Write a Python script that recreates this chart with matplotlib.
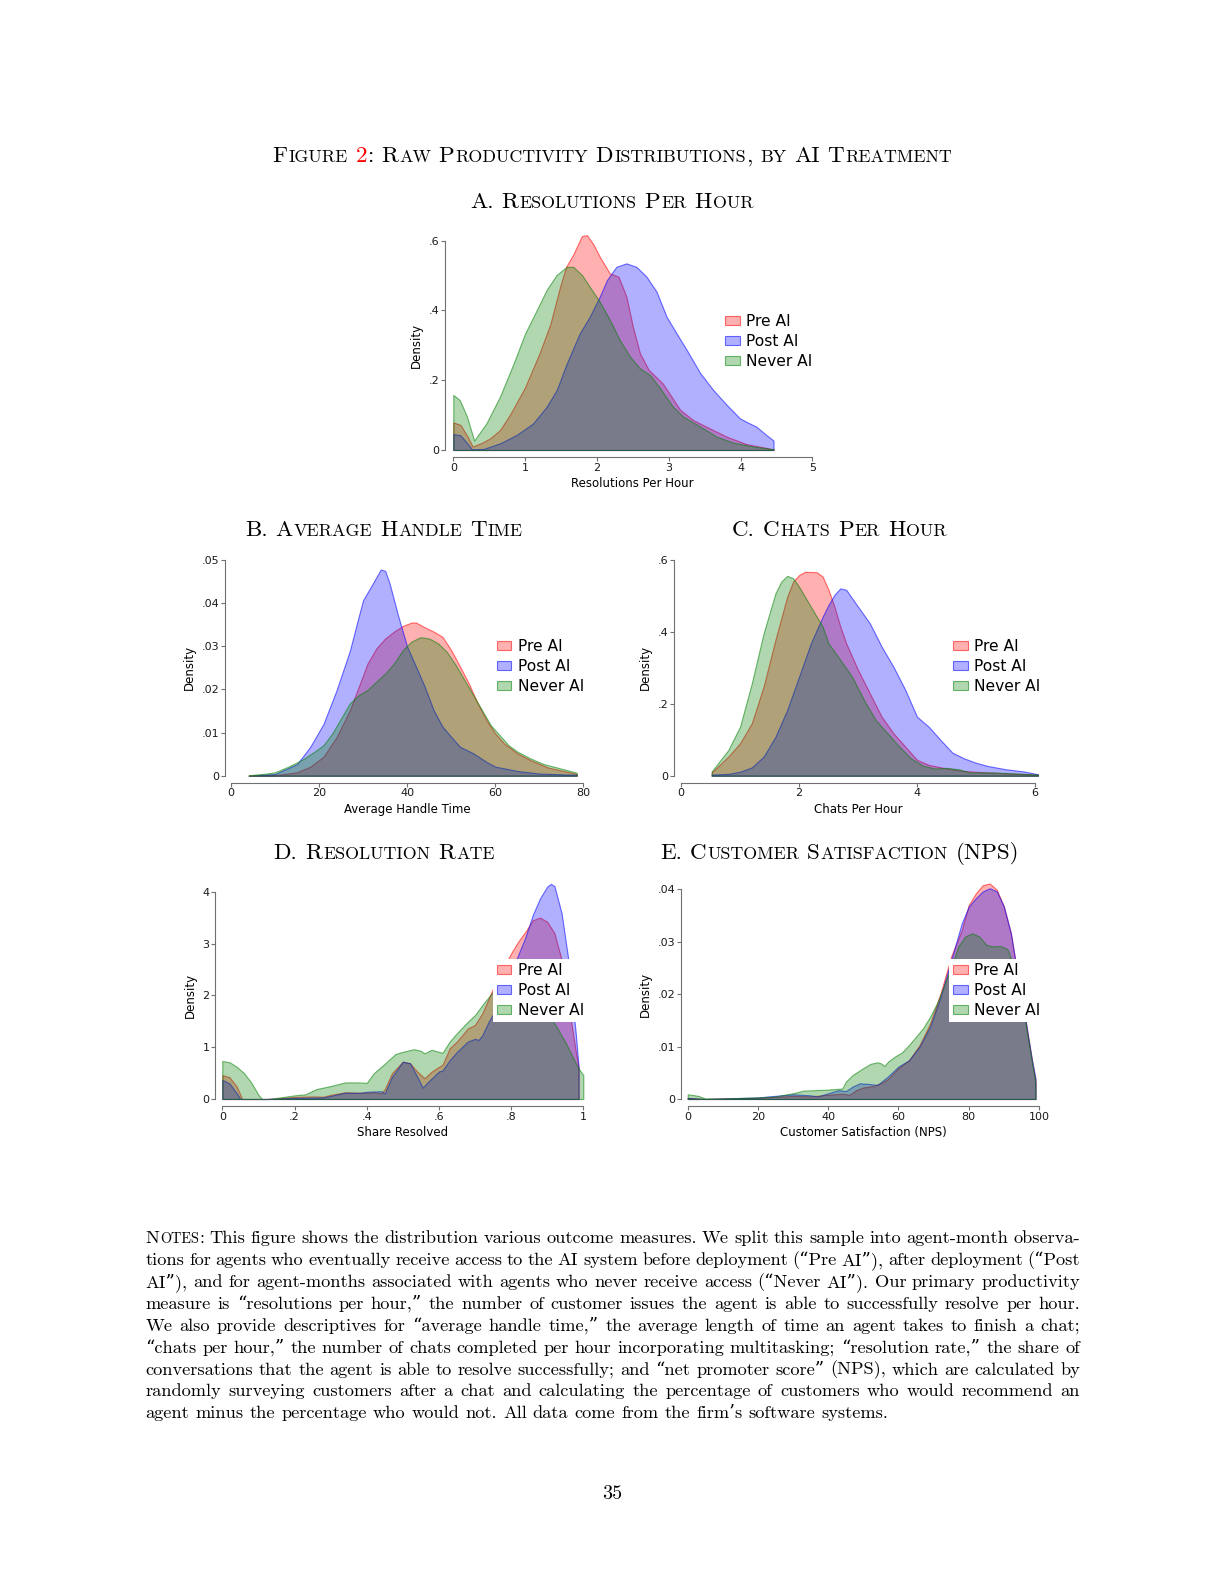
import matplotlib
matplotlib.use('Agg')
import matplotlib.pyplot as plt
from matplotlib.colors import to_rgba

# ---- data ----
series_names = ['Pre AI', 'Post AI', 'Never AI']
series_colors = ['#ff0000', '#0000ff', '#008000']

# A. resolutions per hour
a_pre_x = [0, 0.1, 0.2, 0.27, 0.4, 0.51, 0.65, 0.8, 1.0, 1.2, 1.35, 1.49, 1.57, 1.67, 1.79, 1.86, 1.95, 2.04, 2.18,
           2.3, 2.41, 2.5, 2.6, 2.72, 2.92, 3.16, 3.34, 3.57, 3.81, 4.08, 4.46]
a_pre_y = [0.079, 0.072, 0.038, 0.010, 0.021, 0.033, 0.057, 0.105, 0.18, 0.277, 0.36, 0.47, 0.525, 0.56, 0.613,
           0.616, 0.59, 0.554, 0.506, 0.497, 0.44, 0.354, 0.277, 0.23, 0.19, 0.115, 0.086, 0.062, 0.038, 0.017, 0.002]
a_post_x = [0, 0.1, 0.2, 0.26, 0.42, 0.65, 0.88, 1.11, 1.3, 1.44, 1.58, 1.76, 1.9, 2.04, 2.14, 2.27, 2.41, 2.55,
            2.69, 2.83, 2.97, 3.11, 3.25, 3.44, 3.62, 3.81, 3.99, 4.08, 4.22, 4.36, 4.46]
a_post_y = [0.046, 0.042, 0.018, 0.002, 0.003, 0.019, 0.043, 0.076, 0.124, 0.172, 0.248, 0.334, 0.382, 0.44, 0.487,
            0.525, 0.535, 0.525, 0.497, 0.454, 0.382, 0.334, 0.287, 0.22, 0.172, 0.129, 0.091, 0.081, 0.067, 0.043,
            0.027]
a_never_x = [0, 0.09, 0.19, 0.29, 0.46, 0.65, 0.84, 1.0, 1.16, 1.3, 1.44, 1.58, 1.67, 1.79, 1.9, 2.04, 2.18, 2.32,
             2.46, 2.6, 2.74, 2.88, 3.06, 3.2, 3.44, 3.67, 3.9, 4.18, 4.46]
a_never_y = [0.158, 0.143, 0.096, 0.027, 0.076, 0.153, 0.248, 0.334, 0.4, 0.459, 0.502, 0.525, 0.525, 0.502, 0.468,
             0.425, 0.373, 0.315, 0.268, 0.234, 0.215, 0.177, 0.124, 0.096, 0.067, 0.038, 0.021, 0.01, 0.002]

# B. average handle time
b_pre_x = [4, 10, 15, 18, 21, 24, 27, 29, 31, 33, 35, 37, 39, 41, 42, 44, 46, 48, 50, 52, 54, 56, 58, 60, 62, 65,
           68, 72, 75, 78.5]
b_pre_y = [0, 0.0001, 0.0008, 0.0021, 0.0044, 0.009, 0.0152, 0.0206, 0.026, 0.0295, 0.0318, 0.0334, 0.0347, 0.0355,
           0.0355, 0.0344, 0.0334, 0.0322, 0.0291, 0.0253, 0.0214, 0.0168, 0.0129, 0.0098, 0.0075, 0.0052, 0.0036,
           0.0019, 0.0012, 0.0004]
b_post_x = [4, 10, 15, 18, 21, 24, 27, 29, 30, 32, 34, 35, 36, 38, 40, 42, 44, 46, 48, 50, 52, 55, 58, 60, 65, 70,
            78.5]
b_post_y = [0, 0.0004, 0.0027, 0.0067, 0.012, 0.0199, 0.029, 0.0369, 0.0407, 0.0442, 0.0478, 0.0475, 0.0446, 0.0369,
            0.0299, 0.0253, 0.0206, 0.0152, 0.0114, 0.009, 0.0067, 0.0052, 0.0032, 0.0021, 0.0011, 0.0005, 0.0002]
b_never_x = [4, 8, 10, 13, 16, 19, 21, 23, 25, 27, 29, 31, 33, 35, 37, 39, 41, 43, 45, 47, 49, 51, 53, 55, 57, 59,
             61, 63, 65, 68, 71, 74, 78.5]
b_never_y = [0.0001, 0.0005, 0.0008, 0.0021, 0.0036, 0.0056, 0.0071, 0.0098, 0.0133, 0.0168, 0.0187, 0.0199, 0.0218,
             0.0237, 0.026, 0.0291, 0.0311, 0.0321, 0.0318, 0.0307, 0.0287, 0.0257, 0.0222, 0.0187, 0.0152, 0.0117,
             0.0094, 0.0071, 0.0056, 0.004, 0.0027, 0.0019, 0.0007]

# C. chats per hour
c_pre_x = [0.52, 0.8, 1.0, 1.2, 1.4, 1.6, 1.8, 1.9, 2.0, 2.1, 2.3, 2.4, 2.5, 2.6, 2.7, 2.8, 3.0, 3.2, 3.4, 3.6, 3.8,
           4.0, 4.2, 4.5, 4.8, 5.2, 5.6, 6.05]
c_pre_y = [0.009, 0.053, 0.09, 0.146, 0.248, 0.378, 0.498, 0.54, 0.558, 0.567, 0.566, 0.554, 0.517, 0.47, 0.415,
           0.368, 0.294, 0.229, 0.164, 0.118, 0.081, 0.044, 0.03, 0.02, 0.013, 0.009, 0.006, 0.003]
c_post_x = [0.52, 0.8, 1.0, 1.2, 1.4, 1.6, 1.8, 2.0, 2.2, 2.4, 2.5, 2.6, 2.7, 2.8, 3.0, 3.2, 3.4, 3.6, 3.8, 4.0, 4.2,
            4.4, 4.6, 4.8, 5.0, 5.2, 5.5, 5.8, 6.05]
c_post_y = [0.003, 0.005, 0.011, 0.023, 0.053, 0.108, 0.183, 0.275, 0.368, 0.442, 0.475, 0.503, 0.521, 0.517, 0.47,
            0.424, 0.359, 0.303, 0.239, 0.164, 0.136, 0.099, 0.064, 0.048, 0.036, 0.027, 0.018, 0.012, 0.004]
c_never_x = [0.52, 0.8, 1.0, 1.2, 1.4, 1.6, 1.7, 1.8, 1.9, 2.0, 2.2, 2.4, 2.5, 2.7, 2.9, 3.1, 3.3, 3.5, 3.7, 3.9, 4.1,
             4.3, 4.5, 4.7, 4.9, 5.3, 5.7, 6.05]
c_never_y = [0.012, 0.071, 0.136, 0.257, 0.396, 0.507, 0.54, 0.556, 0.549, 0.526, 0.47, 0.415, 0.368, 0.322, 0.275,
             0.211, 0.155, 0.118, 0.081, 0.048, 0.028, 0.02, 0.022, 0.018, 0.009, 0.009, 0.006, 0.003]

# D. resolution rate
d_pre_x = [0, 0.02, 0.04, 0.055, 0.12, 0.15, 0.2, 0.25, 0.28, 0.3, 0.34, 0.38, 0.4, 0.42, 0.44, 0.45, 0.47, 0.5,
           0.52, 0.54, 0.56, 0.58, 0.6, 0.61, 0.63, 0.65, 0.68, 0.7, 0.72, 0.74, 0.76, 0.78, 0.8, 0.82, 0.84, 0.86,
           0.88, 0.9, 0.92, 0.94, 0.96, 0.98, 0.987]
d_pre_y = [0.46, 0.42, 0.24, 0, 0, 0.01, 0.04, 0.05, 0.045, 0.08, 0.13, 0.12, 0.12, 0.13, 0.11, 0.19, 0.5, 0.72,
           0.69, 0.53, 0.4, 0.53, 0.62, 0.66, 0.98, 1.11, 1.36, 1.43, 1.65, 1.97, 2.3, 2.55, 2.81, 3.04, 3.23, 3.45,
           3.5, 3.42, 3.2, 2.68, 1.78, 0.88, 0.62]
d_post_x = [0, 0.02, 0.04, 0.05, 0.12, 0.2, 0.28, 0.3, 0.34, 0.38, 0.4, 0.44, 0.45, 0.47, 0.5, 0.52, 0.54, 0.555,
            0.57, 0.6, 0.61, 0.63, 0.65, 0.68, 0.7, 0.71, 0.72, 0.74, 0.76, 0.78, 0.8, 0.815, 0.84, 0.86, 0.88, 0.9,
            0.91, 0.92, 0.94, 0.96, 0.98, 0.987]
d_post_y = [0.37, 0.3, 0.11, 0, 0, 0.02, 0.03, 0.06, 0.12, 0.12, 0.14, 0.15, 0.11, 0.43, 0.72, 0.69, 0.43, 0.22,
            0.33, 0.53, 0.55, 0.75, 0.91, 1.11, 1.16, 1.14, 1.23, 1.52, 1.75, 2.0, 2.4, 2.7, 3.13, 3.55, 3.87, 4.1,
            4.15, 4.11, 3.58, 2.62, 1.2, 0.61]
d_never_x = [0, 0.02, 0.04, 0.06, 0.08, 0.1, 0.11, 0.13, 0.15, 0.2, 0.23, 0.26, 0.3, 0.34, 0.38, 0.4, 0.42, 0.45,
             0.48, 0.5, 0.53, 0.55, 0.56, 0.58, 0.6, 0.61, 0.63, 0.65, 0.68, 0.7, 0.72, 0.75, 0.78, 0.81, 0.84, 0.87,
             0.9, 0.92, 0.95, 0.985, 1.0]
d_never_y = [0.733, 0.71, 0.62, 0.5, 0.32, 0.08, 0, 0, 0.02, 0.07, 0.09, 0.19, 0.25, 0.32, 0.32, 0.31, 0.5, 0.68,
             0.87, 0.91, 0.96, 0.93, 0.88, 0.95, 0.91, 0.89, 1.11, 1.27, 1.49, 1.62, 1.81, 2.07, 2.25, 2.35, 2.3, 2.0,
             1.7, 1.46, 1.1, 0.61, 0.46]

# E. customer satisfaction (NPS)
e_pre_x = [0, 5, 10, 20, 25, 30, 35, 40, 44, 46, 48, 50, 53, 55, 57, 60, 63, 66, 69, 72, 75, 78, 80, 82, 84, 86, 88,
           90, 92, 94, 96, 98, 99]
e_pre_y = [0.0002, 0, 0.0001, 0.0002, 0.0004, 0.0006, 0.0005, 0.0008, 0.001, 0.0008, 0.0017, 0.0022, 0.0025, 0.003,
           0.0038, 0.0059, 0.0074, 0.0103, 0.0144, 0.0202, 0.0272, 0.0322, 0.037, 0.0392, 0.0408, 0.0411, 0.0399,
           0.0367, 0.0316, 0.0233, 0.0157, 0.0074, 0.0036]
e_post_x = [0, 5, 10, 20, 25, 30, 35, 37, 40, 43, 45, 47, 49, 51, 54, 57, 60, 63, 66, 69, 72, 75, 78, 80, 82, 84, 86,
            88, 90, 92, 94, 96, 98, 99]
e_post_y = [0.0002, 0, 0.0001, 0.0003, 0.0006, 0.0009, 0.0007, 0.0005, 0.0011, 0.0017, 0.0015, 0.0024, 0.003, 0.0029,
            0.0027, 0.0043, 0.0062, 0.0074, 0.01, 0.0138, 0.0195, 0.0265, 0.0335, 0.0367, 0.0383, 0.0396, 0.0402,
            0.0396, 0.0367, 0.0316, 0.0233, 0.0157, 0.0074, 0.0039]
e_never_x = [0, 3, 5, 10, 15, 20, 25, 30, 33, 37, 40, 44, 45, 47, 50, 52, 54, 55, 56, 57, 59, 61, 63, 65, 67, 69, 71,
             73, 75, 77, 79, 81, 83, 85, 87, 89, 91, 93, 95, 97, 99]
e_never_y = [0.0009, 0.0006, 0.0001, 0.0001, 0.0002, 0.0003, 0.0005, 0.0011, 0.0016, 0.0017, 0.0018, 0.002, 0.0033,
             0.0046, 0.0059, 0.0067, 0.007, 0.0068, 0.0063, 0.0071, 0.0081, 0.0089, 0.0103, 0.0119, 0.0135, 0.0157,
             0.0183, 0.0217, 0.0252, 0.0291, 0.031, 0.0316, 0.031, 0.0294, 0.0291, 0.0292, 0.0286, 0.0252, 0.019,
             0.011, 0.003]

a_xticks = [0, 1, 2, 3, 4, 5]
a_yticks = [0, 0.2, 0.4, 0.6]
a_yticklabels = ['0', '.2', '.4', '.6']
b_xticks = [0, 20, 40, 60, 80]
b_yticks = [0, 0.01, 0.02, 0.03, 0.04, 0.05]
b_yticklabels = ['0', '.01', '.02', '.03', '.04', '.05']
c_xticks = [0, 2, 4, 6]
c_yticks = [0, 0.2, 0.4, 0.6]
c_yticklabels = ['0', '.2', '.4', '.6']
d_xticks = [0, 0.2, 0.4, 0.6, 0.8, 1]
d_xticklabels = ['0', '.2', '.4', '.6', '.8', '1']
d_yticks = [0, 1, 2, 3, 4]
e_xticks = [0, 20, 40, 60, 80, 100]
e_yticks = [0, 0.01, 0.02, 0.03, 0.04]
e_yticklabels = ['0', '.01', '.02', '.03', '.04']

main_title = 'Figure 2: Raw Productivity Distributions, by AI Treatment'
panel_titles = ['A. Resolutions Per Hour', 'B. Average Handle Time', 'C. Chats Per Hour',
                'D. Resolution Rate', 'E. Customer Satisfaction (NPS)']
notes_lines = [
    'Notes: This figure shows the distribution various outcome measures. We split this sample into agent-month observa-',
    'tions for agents who eventually receive access to the AI system before deployment (“Pre AI”), after deployment (“Post',
    'AI”), and for agent-months associated with agents who never receive access (“Never AI”). Our primary productivity',
    'measure is “resolutions per hour,” the number of customer issues the agent is able to successfully resolve per hour.',
    'We also provide descriptives for “average handle time,” the average length of time an agent takes to finish a chat;',
    '“chats per hour,” the number of chats completed per hour incorporating multitasking; “resolution rate,” the share of',
    'conversations that the agent is able to resolve successfully; and “net promoter score” (NPS), which are calculated by',
    'randomly surveying customers after a chat and calculating the percentage of customers who would recommend an',
    'agent minus the percentage who would not. All data come from the firm’s software systems.',
]

# ---- page ----
W, H = 1224, 1584
PT = 100 / 72  # px per point
fig = plt.figure(figsize=(W / 100, H / 100), dpi=100)
fig.patch.set_facecolor('white')
renderer = fig.canvas.get_renderer()
SERIF = ['cmr10', 'DejaVu Serif']
SC = 0.78   # small caps relative size
KERN = 0.05  # gap between small caps pieces, in em


def fx(px):
    return px / W


def fy(py):
    return 1 - py / H


def piece_width(txt, size):
    t = fig.text(0, 0, txt, fontsize=size, family=SERIF)
    w = t.get_window_extent(renderer).width
    t.remove()
    return w


def make_words(line, smallcaps_words=None, smallcaps_all=False):
    words = []
    for i, w in enumerate(line.split(' ')):
        sc = smallcaps_all or (smallcaps_words is not None and i in smallcaps_words)
        if not sc:
            words.append([(w, 1.0, 'black')])
            continue
        pieces = []
        for ch in w:
            if ch.islower():
                p = (ch.upper(), SC, 'black')
            elif ch == '2':
                p = (ch, 1.0, 'red')
            else:
                p = (ch, 1.0, 'black')
            if pieces and pieces[-1][1] == p[1] and pieces[-1][2] == p[2]:
                pieces[-1] = (pieces[-1][0] + p[0], p[1], p[2])
            else:
                pieces.append(p)
        words.append(pieces)
    return words


def piece_gap(nxt, size):
    # no extra room before punctuation
    return 0.0 if nxt[0] in ',.:;' else KERN * size * PT


def word_widths(words, size):
    out = []
    for wd in words:
        pw = [piece_width(t, size * f) for t, f, c in wd]
        gaps = [piece_gap(wd[k + 1][0], size) for k in range(len(wd) - 1)]
        out.append((pw, gaps, sum(pw) + sum(gaps)))
    return out


def natural_width(words, size):
    ws = word_widths(words, size)
    return sum(w for _, _, w in ws) + 0.333 * size * PT * (len(words) - 1)


def place_words(words, yb, size, x_left=None, x_right=None, center=None):
    ws = word_widths(words, size)
    total = sum(w for _, _, w in ws)
    if x_left is not None and x_right is not None:
        gap = (x_right - x_left - total) / (len(words) - 1)
        x = x_left
    else:
        gap = 0.333 * size * PT
        full = total + gap * (len(words) - 1)
        x = center - full / 2 if center is not None else x_left
    for wd, (pw, gaps, w) in zip(words, ws):
        xx = x
        for k, ((t, f, c), p) in enumerate(zip(wd, pw)):
            fig.text(fx(xx), fy(yb), t, fontsize=size * f, family=SERIF, color=c, ha='left', va='baseline')
            xx += p + (gaps[k] if k < len(gaps) else 0)
        x += w + gap


# titles, sized so the main title spans the same width as in the page
title_words = make_words(main_title, smallcaps_all=True)
title_size = 10 * 682 / natural_width(title_words, 10)
place_words(title_words, 162, title_size, center=612)

panel_title_pos = [(612, 208.3), (384, 535.5), (839.5, 535.5), (384, 859), (839.5, 859)]
for txt, (cx, yb) in zip(panel_titles, panel_title_pos):
    place_words(make_words(txt, smallcaps_all=True), yb, title_size, center=cx)

# notes paragraph, justified
note_words = [make_words(notes_lines[0], smallcaps_words=[0])] + [make_words(l) for l in notes_lines[1:]]
note_size = 10 * 743.5 / natural_width(note_words[-1], 10)
for i, words in enumerate(note_words):
    yb = 1243.3 + i * 21.88
    if i < len(note_words) - 1:
        place_words(words, yb, note_size, x_left=145.5, x_right=1080)
    else:
        place_words(words, yb, note_size, x_left=145.5)

fig.text(fx(612), fy(1499), '35', fontsize=note_size * 1.1, family=SERIF, ha='center', va='baseline')


# ---- panels ----
def make_panel(x0, x1, y0, y1, xmax, ymax, spine_off, xticks, xticklabels, yticks, yticklabels, xlabel,
               series, legend_xy):
    ax = fig.add_axes([fx(x0), fy(y0), (x1 - x0) / W, (y0 - y1) / H])
    ax.set_facecolor('none')
    for (xs, ys), name, col in zip(series, series_names, series_colors):
        ax.fill_between(xs, 0, ys, facecolor=to_rgba(col, 0.31), edgecolor=to_rgba(col, 0.55),
                        linewidth=0.8, label=name, clip_on=False)
    ax.set_xlim(0, xmax)
    ax.set_ylim(0, ymax)
    for s in ['top', 'right']:
        ax.spines[s].set_visible(False)
    ax.spines['left'].set_position(('outward', spine_off[0] / PT))
    ax.spines['bottom'].set_position(('outward', spine_off[1] / PT))
    ax.spines['left'].set_bounds(0, ymax)
    ax.spines['bottom'].set_bounds(0, xmax)
    for s in ['left', 'bottom']:
        ax.spines[s].set_color('#707070')
        ax.spines[s].set_linewidth(0.8)
    ax.set_xticks(xticks)
    ax.set_xticklabels(xticklabels)
    ax.set_yticks(yticks)
    ax.set_yticklabels(yticklabels)
    ax.tick_params(direction='out', length=2.6, width=0.8, color='#707070', labelsize=8, pad=1.5,
                   labelcolor='#1a1a1a')
    ax.set_ylabel('Density', fontsize=8.5, labelpad=4)
    ax.set_xlabel(xlabel, fontsize=8.5, labelpad=3)
    leg = ax.legend(loc='upper left', bbox_to_anchor=(fx(legend_xy[0]), fy(legend_xy[1])),
                    bbox_transform=fig.transFigure, frameon=True, fancybox=False, framealpha=1,
                    facecolor='white', edgecolor='none', fontsize=11.2, borderpad=0.25, borderaxespad=0,
                    handlelength=0.95, handleheight=0.45, handletextpad=0.4, labelspacing=0.33)
    leg.set_zorder(5)
    return ax


make_panel(453.3, 812.3, 450, 240.7, 5, 0.6, (8, 7), a_xticks, [str(v) for v in a_xticks], a_yticks, a_yticklabels,
           'Resolutions Per Hour',
           [(a_pre_x, a_pre_y), (a_post_x, a_post_y), (a_never_x, a_never_y)], (721, 310))
make_panel(231, 583.3, 775.7, 560, 80, 0.05, (6, 7), b_xticks, [str(v) for v in b_xticks], b_yticks, b_yticklabels,
           'Average Handle Time',
           [(b_pre_x, b_pre_y), (b_post_x, b_post_y), (b_never_x, b_never_y)], (492.8, 635))
make_panel(681, 1035, 775.7, 560, 6, 0.6, (7, 7), c_xticks, [str(v) for v in c_xticks], c_yticks, c_yticklabels,
           'Chats Per Hour',
           [(c_pre_x, c_pre_y), (c_post_x, c_post_y), (c_never_x, c_never_y)], (949.4, 635))
make_panel(222.3, 583.3, 1099, 891.7, 1, 4, (7, 7), d_xticks, d_xticklabels, d_yticks, [str(v) for v in d_yticks],
           'Share Resolved',
           [(d_pre_x, d_pre_y), (d_post_x, d_post_y), (d_never_x, d_never_y)], (492.7, 959))
make_panel(687.7, 1039, 1099, 889.3, 100, 0.04, (7, 7), e_xticks, [str(v) for v in e_xticks], e_yticks,
           e_yticklabels, 'Customer Satisfaction (NPS)',
           [(e_pre_x, e_pre_y), (e_post_x, e_post_y), (e_never_x, e_never_y)], (949, 959))

fig.savefig('out.png', dpi=100, facecolor='white')
